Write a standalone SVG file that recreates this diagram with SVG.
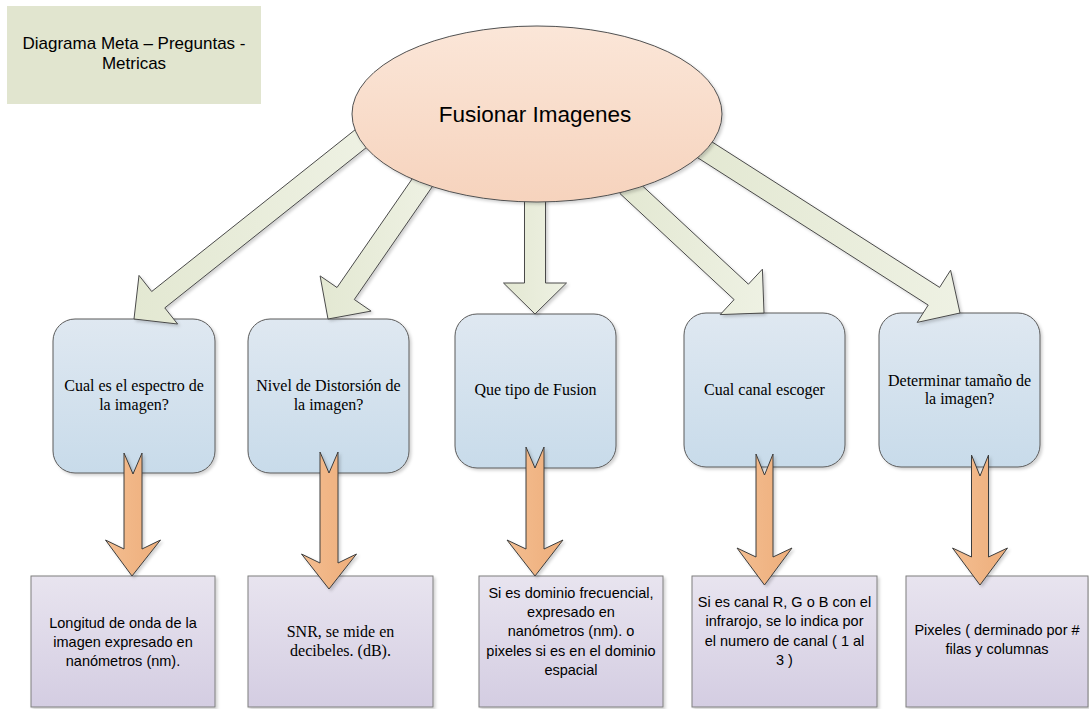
<svg xmlns="http://www.w3.org/2000/svg" width="1089" height="709" viewBox="0 0 1089 709">
<defs>
<linearGradient id="gBlue" x1="0" y1="0" x2="0" y2="1"><stop offset="0" stop-color="#dfe8f1"/><stop offset="1" stop-color="#c8dbea"/></linearGradient>
<linearGradient id="gPurple" x1="0" y1="0" x2="0" y2="1"><stop offset="0" stop-color="#e8e4ef"/><stop offset="1" stop-color="#d4cde2"/></linearGradient>
<linearGradient id="gPeach" x1="0" y1="0" x2="0" y2="1"><stop offset="0" stop-color="#fbe6d8"/><stop offset="1" stop-color="#f6d3bd"/></linearGradient>
<linearGradient id="gGreen" x1="0" y1="0" x2="1" y2="0"><stop offset="0" stop-color="#e3e8d2"/><stop offset="1" stop-color="#eef1e3"/></linearGradient>
<linearGradient id="gOrange" x1="0" y1="0" x2="1" y2="0"><stop offset="0" stop-color="#f3bd90"/><stop offset="1" stop-color="#eeae7b"/></linearGradient>
<filter id="sh" x="-10%" y="-10%" width="130%" height="130%"><feDropShadow dx="2" dy="2" stdDeviation="1.5" flood-color="#000" flood-opacity="0.18"/></filter>
</defs>
<style>
.blue{fill:url(#gBlue);stroke:#5a5a5a;stroke-width:1;filter:url(#sh)}
.purple{fill:url(#gPurple);stroke:#7f7f7f;stroke-width:1;filter:url(#sh)}
.green{fill:url(#gGreen);stroke:#4a4a4a;stroke-width:1;stroke-linejoin:miter;filter:url(#sh)}
.orange{fill:url(#gOrange);stroke:#3c3c3c;stroke-width:1;stroke-linejoin:miter;filter:url(#sh)}
.serif{font-family:"Liberation Serif","Times New Roman",serif;font-size:16px;fill:#000;text-anchor:middle}
.sans{font-family:"Liberation Sans",Arial,sans-serif;font-size:14.5px;fill:#000;text-anchor:middle}
</style>
<rect width="1089" height="709" fill="#fff"/>

<g id="q1"><rect class="blue" x="53" y="319" width="162" height="154" rx="22"/>
<text class="serif" x="134" y="391">Cual es el espectro de</text><text class="serif" x="134" y="410">la imagen?</text></g>
<g id="q2"><rect class="blue" x="248" y="319" width="161" height="154" rx="22"/>
<text class="serif" x="328.5" y="391">Nivel de Distorsión de</text><text class="serif" x="328.5" y="410">la imagen?</text></g>
<g id="q3"><rect class="blue" x="455" y="314" width="161" height="154" rx="22"/>
<text class="serif" x="535.5" y="395">Que tipo de Fusion</text></g>
<g id="q4"><rect class="blue" x="684" y="313" width="161" height="154" rx="22"/>
<text class="serif" x="764.5" y="395">Cual canal escoger</text></g>
<g id="q5"><rect class="blue" x="879" y="313" width="161" height="154" rx="22"/>
<text class="serif" x="959.5" y="386">Determinar tamaño de</text><text class="serif" x="959.5" y="404">la imagen?</text></g>

<g id="m1"><rect class="purple" x="31" y="576" width="184" height="131"/>
<text class="sans" x="123" y="628">Longitud de onda de la</text><text class="sans" x="123" y="647">imagen expresado en</text><text class="sans" x="123" y="666">nanómetros (nm).</text></g>
<g id="m2"><rect class="purple" x="248" y="576" width="185" height="131"/>
<text class="serif" x="340.5" y="637">SNR, se mide en</text><text class="serif" x="340.5" y="656">decibeles. (dB).</text></g>
<g id="m3"><rect class="purple" x="479" y="576" width="184" height="131"/>
<text class="sans" x="571" y="598">Si es dominio frecuencial,</text><text class="sans" x="571" y="617">expresado en</text><text class="sans" x="571" y="636">nanómetros (nm). o</text><text class="sans" x="571" y="656">pixeles si es en el dominio</text><text class="sans" x="571" y="675">espacial</text></g>
<g id="m4"><rect class="purple" x="692" y="576" width="185" height="131"/>
<text class="sans" x="784.5" y="607">Si es canal R, G o B con el</text><text class="sans" x="784.5" y="626">infrarojo, se lo indica por</text><text class="sans" x="784.5" y="646">el numero de canal ( 1 al</text><text class="sans" x="784.5" y="665">3 )</text></g>
<g id="m5"><rect class="purple" x="906" y="576" width="182" height="131"/>
<text class="sans" x="997" y="635">Pixeles ( derminado por #</text><text class="sans" x="997" y="654">filas y columnas</text></g>

<g id="connectors">
<polygon class="green" points="357.2,128.1 151.7,291.5 139,275.4 134,319 177.6,324 164.8,307.9 370.2,144.5"/>
<polygon class="green" points="415.8,173.6 337,287.5 320.1,275.9 328,319 371.1,311.1 354.3,299.5 433,185.6"/>
<polygon class="green" points="524.5,190 524.5,283 503.5,283 535,314 566.5,283 545.5,283 545.5,190"/>
<polygon class="green" points="620,193.6 734.1,299.6 720.2,314.6 764,313 762.4,269.2 748.4,284.2 634.2,178.2"/>
<polygon class="green" points="693.7,155.2 928.2,305.1 917.2,322.4 960,313 950.6,270.2 939.6,287.4 705.1,137.5"/>
<polygon class="orange" points="124,453 133,474 142,453 142,549 160.5,540 132,576 105.5,540 124,549"/>
<polygon class="orange" points="320,452 329,473 338,452 338,563 356.5,554 329,589 301.5,554 320,563"/>
<polygon class="orange" points="526,447 535,468 544,447 544,549 563,540 535,576 507,540 526,549"/>
<polygon class="orange" points="756,454 764.5,475 773,454 773,557 792,548 764.5,585 737,548 756,557"/>
<polygon class="orange" points="971.5,455 980,476 988.5,455 988.5,557 1007.5,548 980,585 952.5,548 971.5,557"/>
</g>

<g id="goal"><ellipse cx="537" cy="114" rx="185" ry="88" fill="url(#gPeach)" stroke="#505050" stroke-width="1" filter="url(#sh)"/>
<text x="535" y="122" font-family="'Liberation Sans',Arial,sans-serif" font-size="22.5" text-anchor="middle" fill="#000">Fusionar Imagenes</text></g>

<g id="title"><rect x="7" y="6" width="254" height="98" fill="#e1e5cf"/>
<text x="134" y="49" font-family="'Liberation Sans',Arial,sans-serif" font-size="17" text-anchor="middle" fill="#000">Diagrama Meta – Preguntas -</text>
<text x="134" y="69" font-family="'Liberation Sans',Arial,sans-serif" font-size="17" text-anchor="middle" fill="#000">Metricas</text></g>
</svg>
